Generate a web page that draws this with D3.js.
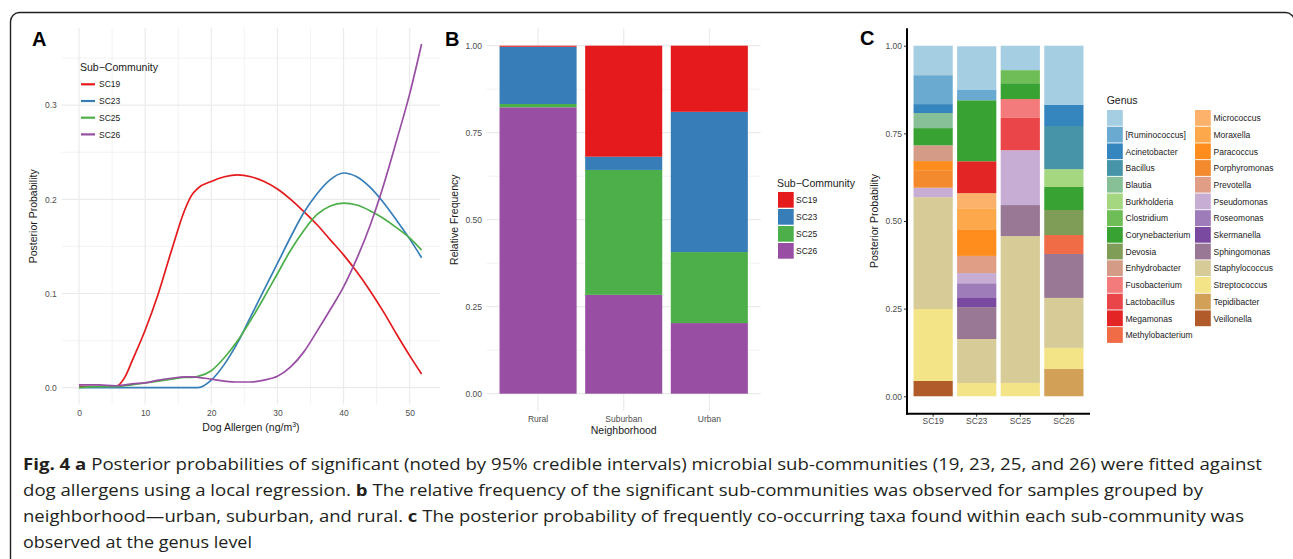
<!DOCTYPE html>
<html><head><meta charset="utf-8">
<script src="https://cdn.jsdelivr.net/npm/d3@7"></script>
<style>
body{margin:0;background:#fff;}
svg{display:block;}
text{font-family:"Liberation Sans",Arial,Helvetica,sans-serif;}
</style>
</head><body>
<svg id="fig" width="1293" height="559"></svg>
<script>
// ---------------- DATA ----------------
// Panel A: posterior probability vs dog allergen
const allergenX = [0, 3, 5.5, 7, 8, 10, 12, 14, 16, 17, 18, 20, 22, 24, 26, 28, 30, 32, 34, 36, 38, 40, 42, 44, 46, 48, 50, 51.8];
const probSC19 = [0.001,0.001,0.001,0.012,0.028,0.061,0.100,0.146,0.189,0.204,0.212,0.219,0.224,0.226,0.224,0.219,0.211,0.200,0.187,0.173,0.157,0.141,0.123,0.103,0.081,0.057,0.034,0.0145];
const probSC23 = [0,0,0,0,0,0,0,0,0,0,0,0.008,0.025,0.048,0.076,0.104,0.132,0.160,0.186,0.206,0.221,0.228,0.224,0.213,0.197,0.178,0.158,0.138];
const probSC25 = [0,0.001,0.001,0.002,0.003,0.005,0.007,0.009,0.011,0.011,0.012,0.018,0.032,0.050,0.072,0.096,0.121,0.146,0.167,0.184,0.193,0.196,0.194,0.188,0.180,0.170,0.159,0.146];
const probSC26 = [0.003,0.003,0.002,0.003,0.004,0.005,0.008,0.010,0.0115,0.0115,0.011,0.009,0.007,0.006,0.006,0.008,0.012,0.022,0.038,0.060,0.083,0.107,0.137,0.172,0.214,0.262,0.312,0.365];
const aXTicks = [0, 10, 20, 30, 40, 50];
const aYTicks = [0, 0.1, 0.2, 0.3];

const subCommunities = ["SC19", "SC23", "SC25", "SC26"];
const subColors = ["#E41A1C", "#377EB8", "#4DAF4A", "#984EA3"];

// Panel B: relative frequency by neighborhood
const neighborhoods = ["Rural", "Suburban", "Urban"];
const freqSC19 = [0.003, 0.319, 0.190];
const freqSC23 = [0.1645, 0.038, 0.403];
const freqSC25 = [0.0095, 0.359, 0.204];
const freqSC26 = [0.823, 0.284, 0.203];
const bYTicks = [0, 0.25, 0.5, 0.75, 1];

// Panel C: genus composition of each sub-community
const genera = ["", "[Ruminococcus]", "Acinetobacter", "Bacillus", "Blautia", "Burkholderia", "Clostridium",
  "Corynebacterium", "Devosia", "Enhydrobacter", "Fusobacterium", "Lactobacillus", "Megamonas", "Methylobacterium",
  "Micrococcus", "Moraxella", "Paracoccus", "Porphyromonas", "Prevotella", "Pseudomonas", "Roseomonas",
  "Skermanella", "Sphingomonas", "Staphylococcus", "Streptococcus", "Tepidibacter", "Veillonella"];
const genusColors = ["#A6CEE3", "#6AA9D0", "#3585BE", "#4794A8", "#87C096", "#A4D77F", "#6FBD57",
  "#38A232", "#7F9D56", "#D49B86", "#F47B7B", "#EA4649", "#E32625", "#EF6C46",
  "#FCB26A", "#FDA84A", "#FE8D1E", "#F38A2D", "#DF9E85", "#C7ADD4", "#9E7BB9",
  "#7A4AA0", "#997896", "#D7CB98", "#F3E488", "#D2A056", "#B15A2A"];
const sc19Genera = ["", "[Ruminococcus]", "Acinetobacter", "Blautia", "Corynebacterium", "Enhydrobacter", "Paracoccus", "Porphyromonas", "Pseudomonas", "Staphylococcus", "Streptococcus", "Veillonella"];
const sc19Probs  = [0.084, 0.0825, 0.0255, 0.043, 0.049, 0.045, 0.026, 0.050, 0.027, 0.319, 0.2054, 0.0436];
const sc23Genera = ["", "[Ruminococcus]", "Corynebacterium", "Megamonas", "Micrococcus", "Moraxella", "Paracoccus", "Prevotella", "Pseudomonas", "Roseomonas", "Skermanella", "Sphingomonas", "Staphylococcus", "Streptococcus"];
const sc23Probs  = [0.123, 0.031, 0.174, 0.091, 0.043, 0.060, 0.076, 0.049, 0.029, 0.040, 0.028, 0.091, 0.1255, 0.0379];
const sc25Genera = ["", "Clostridium", "Corynebacterium", "Fusobacterium", "Lactobacillus", "Pseudomonas", "Sphingomonas", "Staphylococcus", "Streptococcus"];
const sc25Probs  = [0.0696, 0.0374, 0.045, 0.054, 0.092, 0.1565, 0.0885, 0.419, 0.038];
const sc26Genera = ["", "Acinetobacter", "Bacillus", "Burkholderia", "Corynebacterium", "Devosia", "Methylobacterium", "Sphingomonas", "Staphylococcus", "Streptococcus", "Tepidibacter"];
const sc26Probs  = [0.169, 0.060, 0.123, 0.051, 0.0656, 0.0714, 0.054, 0.1254, 0.1426, 0.060, 0.078];
const cYTicks = [0, 0.25, 0.5, 0.75, 1];

// Caption
const captionLines = [
  [["b", "Fig. 4 a"], ["n", " Posterior probabilities of significant (noted by 95% credible intervals) microbial sub-communities (19, 23, 25, and 26) were fitted against"]],
  [["n", "dog allergens using a local regression. "], ["b", "b"], ["n", " The relative frequency of the significant sub-communities was observed for samples grouped by"]],
  [["n", "neighborhood\u2014urban, suburban, and rural. "], ["b", "c"], ["n", " The posterior probability of frequently co-occurring taxa found within each sub-community was"]],
  [["n", "observed at the genus level"]]
];

// ---------------- DRAWING ----------------
const svg = d3.select("#fig");
const tickCol = "#4D4D4D", titleCol = "#1A1A1A", gridCol = "#EBEBEB";

// outer rounded frame
svg.append("rect").attr("x", 10.5).attr("y", 12.5).attr("width", 1284).attr("height", 600)
  .attr("rx", 9).attr("fill", "none").attr("stroke", "#231F20").attr("stroke-width", 1.4);

function panelLabel(t, x, y) {
  svg.append("text").attr("x", x).attr("y", y).text(t)
    .attr("font-size", 20).attr("font-weight", "bold").attr("fill", "#000");
}

// ===== Panel A =====
{
  const x = d3.scaleLinear().domain([-2.6, 54.6]).range([61.8, 440.1]);
  const y = d3.scaleLinear().domain([-0.018, 0.382]).range([404.6, 28]);
  const g = svg.append("g");
  const [x0, x1] = x.range(), [y0, y1] = y.range();
  const xMinor = [5, 15, 25, 35, 45], yMinor = [0.05, 0.15, 0.25, 0.35];
  g.selectAll(".vmin").data(xMinor).join("line").attr("x1", d => x(d)).attr("x2", d => x(d))
    .attr("y1", y1).attr("y2", y0).attr("stroke", gridCol).attr("stroke-width", 0.6);
  g.selectAll(".hmin").data(yMinor).join("line").attr("y1", d => y(d)).attr("y2", d => y(d))
    .attr("x1", x0).attr("x2", x1).attr("stroke", gridCol).attr("stroke-width", 0.6);
  g.selectAll(".vmaj").data(aXTicks).join("line").attr("x1", d => x(d)).attr("x2", d => x(d))
    .attr("y1", y1).attr("y2", y0).attr("stroke", gridCol).attr("stroke-width", 1.2);
  g.selectAll(".hmaj").data(aYTicks).join("line").attr("y1", d => y(d)).attr("y2", d => y(d))
    .attr("x1", x0).attr("x2", x1).attr("stroke", gridCol).attr("stroke-width", 1.2);

  const ax = g.append("g").attr("transform", `translate(0,${y0})`)
    .call(d3.axisBottom(x).tickValues(aXTicks).tickSize(0).tickPadding(5.4).tickFormat(d3.format("d")));
  const ay = g.append("g").attr("transform", `translate(${x0},0)`)
    .call(d3.axisLeft(y).tickValues(aYTicks).tickSize(0).tickPadding(5).tickFormat(d3.format(".1f")));
  [ax, ay].forEach(a => { a.select(".domain").remove();
    a.selectAll("text").attr("font-size", 8.5).attr("fill", tickCol).attr("font-family", "Liberation Sans, Arial, sans-serif"); });

  const series = [probSC19, probSC23, probSC25, probSC26];
  const line = d3.line().x((d, i) => x(allergenX[i])).y(d => y(d)).curve(d3.curveMonotoneX);
  series.forEach((s, k) => {
    g.append("path").datum(s).attr("d", line).attr("fill", "none")
      .attr("stroke", subColors[k]).attr("stroke-width", 1.7);
  });

  const xt = g.append("text").attr("x", (x0 + x1) / 2).attr("y", 430.5).attr("text-anchor", "middle")
    .attr("font-size", 10.5).attr("fill", titleCol);
  xt.append("tspan").text("Dog Allergen (ng/m");
  xt.append("tspan").text("3").attr("font-size", 7).attr("dy", -4);
  xt.append("tspan").text(")").attr("dy", 4);
  g.append("text").attr("transform", `translate(37,${(y0 + y1) / 2}) rotate(-90)`).attr("text-anchor", "middle")
    .attr("font-size", 10.5).attr("fill", titleCol).text("Posterior Probability");

  g.append("text").attr("x", 80).attr("y", 70.8).attr("font-size", 10.5).attr("fill", titleCol).text("Sub\u2212Community");
  subCommunities.forEach((s, i) => {
    const cy = 84.3 + i * 16.7;
    g.append("line").attr("x1", 81).attr("x2", 95).attr("y1", cy).attr("y2", cy)
      .attr("stroke", subColors[i]).attr("stroke-width", 2.2);
    g.append("text").attr("x", 99).attr("y", cy + 3.1).attr("font-size", 8.5).attr("fill", "#222").text(s);
  });
  panelLabel("A", 32, 45.7);
}

// ===== Panel B =====
{
  const x = d3.scaleBand().domain(neighborhoods).range([486.7, 760.7]).paddingInner(0.1).paddingOuter(0.15);
  const y = d3.scaleLinear().domain([-0.05, 1.05]).range([411.1, 28.3]);
  const g = svg.append("g");
  const [x0, x1] = x.range(), [y0, y1] = y.range();
  const yMinor = [0.125, 0.375, 0.625, 0.875];
  g.selectAll(".hmin").data(yMinor).join("line").attr("y1", d => y(d)).attr("y2", d => y(d))
    .attr("x1", x0).attr("x2", x1).attr("stroke", gridCol).attr("stroke-width", 0.6);
  g.selectAll(".hmaj").data(bYTicks).join("line").attr("y1", d => y(d)).attr("y2", d => y(d))
    .attr("x1", x0).attr("x2", x1).attr("stroke", gridCol).attr("stroke-width", 1.2);
  g.selectAll(".vmaj").data(neighborhoods).join("line")
    .attr("x1", d => x(d) + x.bandwidth() / 2).attr("x2", d => x(d) + x.bandwidth() / 2)
    .attr("y1", y1).attr("y2", y0).attr("stroke", gridCol).attr("stroke-width", 1.2);

  const freqs = [freqSC19, freqSC23, freqSC25, freqSC26];
  neighborhoods.forEach((n, j) => {
    let cum = 0;
    for (let k = subCommunities.length - 1; k >= 0; k--) {
      const v = freqs[k][j];
      g.append("rect").attr("x", x(n)).attr("width", x.bandwidth())
        .attr("y", y(cum + v)).attr("height", y(cum) - y(cum + v)).attr("fill", subColors[k]);
      cum += v;
    }
  });

  const ax = g.append("g").attr("transform", `translate(0,${y0})`)
    .call(d3.axisBottom(x).tickSize(0).tickPadding(5));
  const ay = g.append("g").attr("transform", `translate(${x0},0)`)
    .call(d3.axisLeft(y).tickValues(bYTicks).tickSize(0).tickPadding(4.7).tickFormat(d3.format(".2f")));
  [ax, ay].forEach(a => { a.select(".domain").remove();
    a.selectAll("text").attr("font-size", 8.5).attr("fill", tickCol).attr("font-family", "Liberation Sans, Arial, sans-serif"); });

  g.append("text").attr("x", (x0 + x1) / 2).attr("y", 434).attr("text-anchor", "middle")
    .attr("font-size", 10.5).attr("fill", titleCol).text("Neighborhood");
  g.append("text").attr("transform", `translate(457.5,${(y0 + y1) / 2}) rotate(-90)`).attr("text-anchor", "middle")
    .attr("font-size", 10.5).attr("fill", titleCol).text("Relative Frequency");

  g.append("text").attr("x", 777).attr("y", 186.8).attr("font-size", 10.5).attr("fill", titleCol).text("Sub\u2212Community");
  subCommunities.forEach((s, i) => {
    const top = 192 + i * 17;
    g.append("rect").attr("x", 778).attr("y", top).attr("width", 15.7).attr("height", 15.7).attr("fill", subColors[i]);
    g.append("text").attr("x", 796).attr("y", top + 8 + 3.1).attr("font-size", 8.5).attr("fill", "#222").text(s);
  });
  panelLabel("B", 445, 46);
}

// ===== Panel C =====
{
  const x = d3.scaleBand().domain(subCommunities).range([907, 1090]).paddingInner(0.1).paddingOuter(0.15);
  const y = d3.scaleLinear().domain([-0.05, 1.05]).range([413.8, 28.2]);
  const g = svg.append("g");
  const [x0, x1] = x.range(), [y0, y1] = y.range();
  const colorOf = d3.scaleOrdinal().domain(genera).range(genusColors);
  const stacks = [[sc19Genera, sc19Probs], [sc23Genera, sc23Probs], [sc25Genera, sc25Probs], [sc26Genera, sc26Probs]];
  stacks.forEach(([gen, pr], j) => {
    let cum = 0;
    for (let k = gen.length - 1; k >= 0; k--) {
      const v = pr[k];
      g.append("rect").attr("x", x(subCommunities[j])).attr("width", x.bandwidth())
        .attr("y", y(cum + v)).attr("height", y(cum) - y(cum + v)).attr("fill", colorOf(gen[k]));
      cum += v;
    }
  });

  const ax = g.append("g").attr("transform", `translate(0,${y0})`)
    .call(d3.axisBottom(x).tickSize(3).tickPadding(1.3));
  const ay = g.append("g").attr("transform", `translate(${x0},0)`)
    .call(d3.axisLeft(y).tickValues(cYTicks).tickSize(3).tickPadding(2).tickFormat(d3.format(".2f")));
  [ax, ay].forEach(a => {
    a.select(".domain").remove();
    a.selectAll(".tick line").attr("stroke", "#333").attr("stroke-width", 1);
    a.selectAll("text").attr("font-size", 8.5).attr("fill", tickCol).attr("font-family", "Liberation Sans, Arial, sans-serif");
  });
  g.append("line").attr("x1", x0).attr("x2", x0).attr("y1", y1).attr("y2", y0 + 1)
    .attr("stroke", "#000").attr("stroke-width", 2);
  g.append("line").attr("x1", x0 - 1).attr("x2", x1).attr("y1", y0).attr("y2", y0)
    .attr("stroke", "#000").attr("stroke-width", 2);

  g.append("text").attr("transform", `translate(878,${(y0 + y1) / 2}) rotate(-90)`).attr("text-anchor", "middle")
    .attr("font-size", 10.5).attr("fill", titleCol).text("Posterior Probability");

  g.append("text").attr("x", 1106.7).attr("y", 104.2).attr("font-size", 10.5).attr("fill", titleCol).text("Genus");
  genera.forEach((name, i) => {
    const col = i < 14 ? 0 : 1, row = i < 14 ? i : i - 14;
    const kx = col === 0 ? 1107 : 1195;
    const top = 110 + row * 16.7;
    g.append("rect").attr("x", kx).attr("y", top).attr("width", 15.8).attr("height", 15.8).attr("fill", genusColors[i]);
    g.append("text").attr("x", kx + 18.5).attr("y", top + 8 + 3.1).attr("font-size", 8.5).attr("fill", "#222").text(name);
  });
  panelLabel("C", 860, 45);
}

// ===== Caption =====
{
  const widths = [1239, 1180, 1221, 229];
  captionLines.forEach((parts, i) => {
    const t = svg.append("text").attr("x", 23).attr("y", 470 + i * 26)
      .attr("font-size", 16.5).attr("fill", "#231F20")
      .style("font-family", "'Open Sans', 'Noto Sans', sans-serif")
      .attr("textLength", widths[i]).attr("lengthAdjust", "spacingAndGlyphs");
    parts.forEach(([w, s]) => t.append("tspan").attr("font-weight", w === "b" ? "bold" : "normal").text(s));
  });
}
</script>
</body></html>
